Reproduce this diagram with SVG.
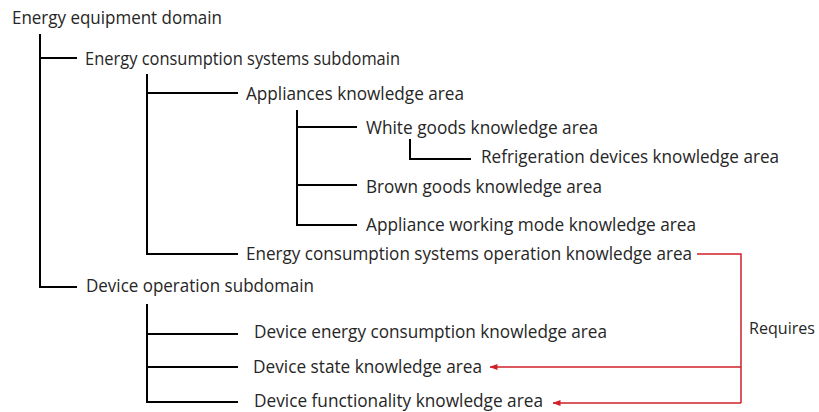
<svg xmlns="http://www.w3.org/2000/svg" width="819" height="412" viewBox="0 0 819 412">
<style>
text{font-family:"Open Sans","Liberation Sans",sans-serif;font-size:18px;fill:#262626;}
.t{stroke:#000;stroke-width:2;fill:none;}
.r{stroke:#d0202a;stroke-width:1.5;fill:none;}
</style>
<defs>
<marker id="ah" viewBox="0 0 8 6" refX="7.5" refY="3" markerWidth="8" markerHeight="6" markerUnits="userSpaceOnUse" orient="auto">
<path d="M0,0 L8,3 L0,6 Z" fill="#d0202a"/>
</marker>
</defs>
<rect width="819" height="412" fill="#fff"/>
<g id="connectors">
<path class="t" d="M40,34 V287 H77 M40,58 H77"/>
<path class="t" d="M147,74 V254 H238 M147,93 H238"/>
<path class="t" d="M297,110 V225 H357 M297,127 H357 M297,185 H357"/>
<path class="t" d="M410,139 V159 H471"/>
<path class="t" d="M147,304 V402 H238 M147,334 H238 M147,367 H238"/>
<path class="r" d="M697,254 H741 V403"/>
<path class="r" d="M741,367 H490" marker-end="url(#ah)"/>
<path class="r" d="M741,403 H553" marker-end="url(#ah)"/>
</g>
<g id="n1"><text x="12" y="23.5" textLength="210" lengthAdjust="spacingAndGlyphs">Energy equipment domain</text></g>
<g id="n2"><text x="85" y="64.5" textLength="315" lengthAdjust="spacingAndGlyphs">Energy consumption systems subdomain</text></g>
<g id="n3"><text x="246" y="100" textLength="218" lengthAdjust="spacingAndGlyphs">Appliances knowledge area</text></g>
<g id="n4"><text x="366" y="133.5" textLength="232" lengthAdjust="spacingAndGlyphs">White goods knowledge area</text></g>
<g id="n5"><text x="481" y="163" textLength="298" lengthAdjust="spacingAndGlyphs">Refrigeration devices knowledge area</text></g>
<g id="n6"><text x="366" y="192.5" textLength="236" lengthAdjust="spacingAndGlyphs">Brown goods knowledge area</text></g>
<g id="n7"><text x="366" y="230.5" textLength="330" lengthAdjust="spacingAndGlyphs">Appliance working mode knowledge area</text></g>
<g id="n8"><text x="246" y="259.5" textLength="446" lengthAdjust="spacingAndGlyphs">Energy consumption systems operation knowledge area</text></g>
<g id="n9"><text x="86" y="291.5" textLength="228" lengthAdjust="spacingAndGlyphs">Device operation subdomain</text></g>
<g id="n10"><text x="254" y="338" textLength="353" lengthAdjust="spacingAndGlyphs">Device energy consumption knowledge area</text></g>
<g id="n11"><text x="253" y="372.5" textLength="229" lengthAdjust="spacingAndGlyphs">Device state knowledge area</text></g>
<g id="n12"><text x="254" y="407" textLength="289" lengthAdjust="spacingAndGlyphs">Device functionality knowledge area</text></g>
<g id="lbl"><text x="749" y="334" style="font-size:16.5px" textLength="66" lengthAdjust="spacingAndGlyphs">Requires</text></g>
</svg>
